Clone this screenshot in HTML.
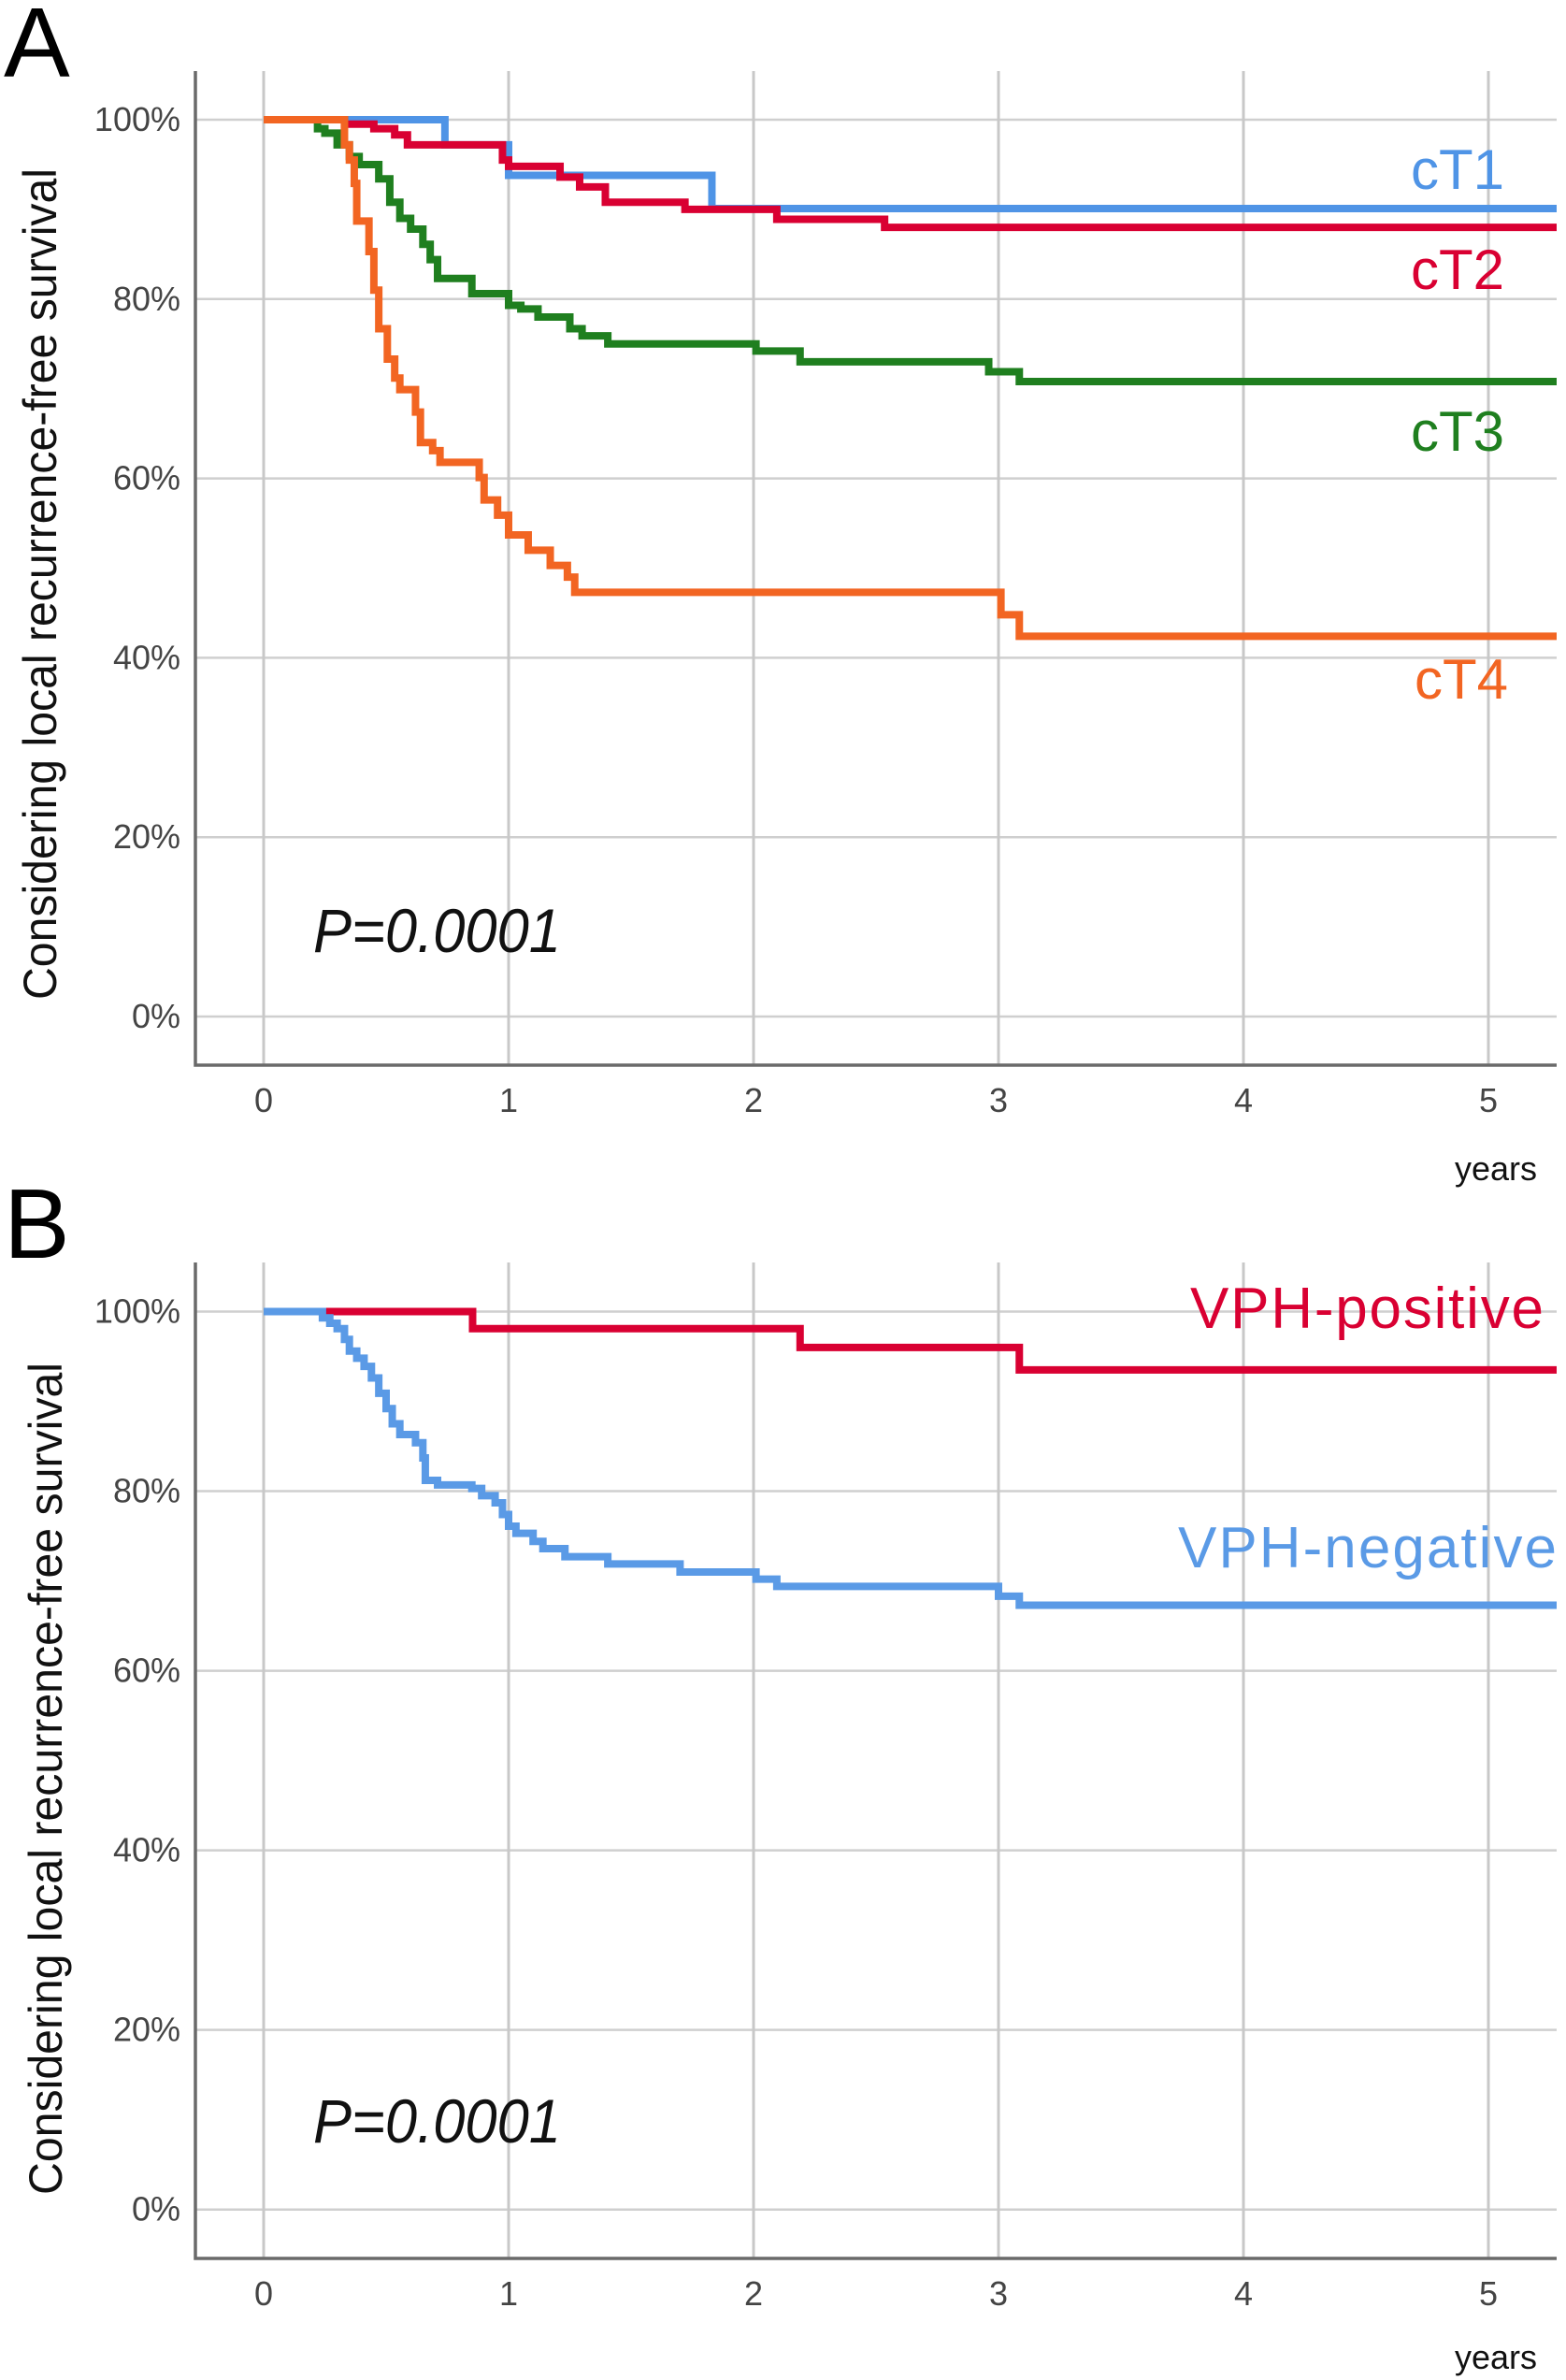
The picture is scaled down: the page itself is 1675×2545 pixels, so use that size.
<!DOCTYPE html>
<html><head><meta charset="utf-8"><style>
html,body{margin:0;padding:0;background:#fff;}
svg{display:block;}
text{font-family:"Liberation Sans",sans-serif;}
</style></head><body>
<svg id="fig" width="1675" height="2545" viewBox="0 0 1675 2545" xmlns="http://www.w3.org/2000/svg"></svg>
<script>
const yTicks = [0, 20, 40, 60, 80, 100];
const yTickLabels = ["0%", "20%", "40%", "60%", "80%", "100%"];
const xTicks = [0, 1, 2, 3, 4, 5];
const xTickLabels = ["0", "1", "2", "3", "4", "5"];
// Panel A series: [time, survival%]
const cT1 = [[0,100],[0.74,97.2],[1.0,93.8],[1.83,90.1]];
const cT2 = [[0,100],[0.33,99.5],[0.45,99],[0.535,98.3],[0.587,97.2],[0.975,95.5],[1.0,94.8],[1.21,93.6],[1.29,92.5],[1.395,90.8],[1.72,90],[2.095,88.9],[2.535,88.0]];
const cT3 = [[0,100],[0.22,99],[0.25,98.5],[0.3,97.2],[0.35,95.9],[0.39,95],[0.47,93.4],[0.515,90.8],[0.556,89],[0.6,87.8],[0.65,86.1],[0.68,84.4],[0.71,82.3],[0.85,80.6],[1.0,79.3],[1.05,78.9],[1.12,78],[1.25,76.7],[1.3,75.9],[1.405,75],[2.01,74.2],[2.19,73],[2.96,71.9],[3.085,70.8]];
const cT4 = [[0,100],[0.33,97.2],[0.35,95.5],[0.37,92.9],[0.38,88.7],[0.43,85.3],[0.45,81],[0.47,76.7],[0.505,73.3],[0.535,71.2],[0.556,69.9],[0.62,67.4],[0.64,64],[0.69,63.1],[0.72,61.8],[0.88,60.1],[0.9,57.6],[0.955,55.9],[1.0,53.7],[1.08,52],[1.17,50.3],[1.24,49],[1.27,47.3],[3.01,44.8],[3.085,42.4]];
// Panel B series
const vphPos = [[0,100],[0.853,98.1],[2.19,96.0],[3.085,93.5]];
const vphNeg = [[0,100],[0.24,99.3],[0.27,98.7],[0.3,98.1],[0.33,96.9],[0.35,95.6],[0.38,94.8],[0.41,93.9],[0.44,92.6],[0.47,90.9],[0.5,89.2],[0.525,87.5],[0.556,86.3],[0.62,85.4],[0.65,83.7],[0.66,81.2],[0.71,80.7],[0.85,80.3],[0.89,79.5],[0.945,78.7],[0.975,77.4],[1.0,76.1],[1.03,75.3],[1.1,74.4],[1.14,73.6],[1.23,72.7],[1.405,71.9],[1.7,71.0],[2.01,70.2],[2.095,69.4],[3.0,68.3],[3.085,67.3]];

const NS = "http://www.w3.org/2000/svg";
const svg = document.getElementById('fig');
function mk(tag, attrs, parent){const e=document.createElementNS(NS,tag);for(const k in attrs)e.setAttribute(k,attrs[k]);(parent||svg).appendChild(e);return e;}

function panel(cfg){
  const g = mk('g',{});
  
  
  const xL=209, xR=1665, x0=282, pxYr=262, yTop=cfg.y100, yZero=cfg.y0;
  const X = t => x0 + t*pxYr;
  const Y = p => yZero - (yZero-yTop)*p/100;
  const tMax = (xR - x0)/pxYr;
  yTicks.forEach((v,i)=>{
    const l = mk('line',{x1:xL,x2:xR,y1:Y(v),y2:Y(v),stroke:'#cfcfcf','stroke-width':2.5},g);
    
    
    const t = mk('text',{x:193,y:Y(v)+12,'text-anchor':'end','font-size':36,fill:'#444'},g);
    t.textContent = yTickLabels[i];
    
    
  });
  xTicks.forEach((v,i)=>{
    const l = mk('line',{x1:X(v),x2:X(v),y1:cfg.axTop,y2:cfg.axBot,stroke:'#c8c8c8','stroke-width':3},g);
    
    
    const t = mk('text',{x:X(v),y:cfg.axBot+50,'text-anchor':'middle','font-size':36,fill:'#444'},g);
    t.textContent = xTickLabels[i];
    
    
  });
  const ax = mk('path',{d:`M${xL},${cfg.axTop} V${cfg.axBot} H${xR}`,fill:'none',stroke:'#6a6a6a','stroke-width':3.5},g);
  
  
  cfg.series.forEach(s=>{
    let d = `M${X(s.data[0][0])},${Y(s.data[0][1])}`;
    for(let i=1;i<s.data.length;i++){ d += ` H${X(s.data[i][0])} V${Y(s.data[i][1])}`; }
    d += ` H${X(tMax)}`;
    const p = mk('path',{d:d,fill:'none',stroke:s.color,'stroke-width':8,'stroke-linejoin':'miter'},g);
    
    
    const t = mk('text',{x:s.lx,y:s.ly,'font-size':s.fs,fill:s.color},g);
    if(s.tl) t.setAttribute('textLength', s.tl);
    t.textContent = s.label;
    
    
  });
  const cx = cfg.titleX, cy = (cfg.titleY1+cfg.titleY2)/2;
  const yt = mk('text',{x:cx,y:cy,'text-anchor':'middle','font-size':50,fill:'#111',transform:`rotate(-90 ${cx} ${cy})`,textLength:cfg.titleY2-cfg.titleY1,lengthAdjust:'spacingAndGlyphs'},g);
  yt.textContent = 'Considering local recurrence-free survival';
  
  
  const L = mk('text',{x:4,y:cfg.letterY,'font-size':106,fill:'#000'},g);
  L.textContent = cfg.letter;
  
  
  const P = mk('text',{x:335,y:cfg.pY,'font-size':66,'font-style':'italic',fill:'#111',textLength:265,lengthAdjust:'spacingAndGlyphs'},g);
  P.textContent = 'P=0.0001';
  
  
  const yr = mk('text',{x:1556,y:cfg.yearsY,'font-size':36,fill:'#111'},g);
  yr.textContent = 'years';
  
  
}

panel({name:'panel-a',letter:'A',letterY:82,y100:128,y0:1087,axTop:76,axBot:1139,titleX:60,titleY1:180,titleY2:1069,pY:1018,yearsY:1262,
  series:[
    {name:'ct1',data:cT1,color:'#4f94e6',label:'cT1',lx:1509,ly:202,fs:60},
    {name:'ct2',data:cT2,color:'#d90032',label:'cT2',lx:1509,ly:309,fs:60},
    {name:'ct3',data:cT3,color:'#1f7f1f',label:'cT3',lx:1509,ly:482,fs:60},
    {name:'ct4',data:cT4,color:'#f26522',label:'cT4',lx:1513,ly:747,fs:60}
  ]});
panel({name:'panel-b',letter:'B',letterY:1345,y100:1402.5,y0:2362.7,axTop:1350,axBot:2415,titleX:66,titleY1:1457,titleY2:2347,pY:2291,yearsY:2533,
  series:[
    {name:'vph-positive',data:vphPos,color:'#d90032',label:'VPH-positive',lx:1273,ly:1420,fs:62,tl:378},
    {name:'vph-negative',data:vphNeg,color:'#5a9ae6',label:'VPH-negative',lx:1260,ly:1676,fs:62,tl:405}
  ]});
</script>
</body></html>
